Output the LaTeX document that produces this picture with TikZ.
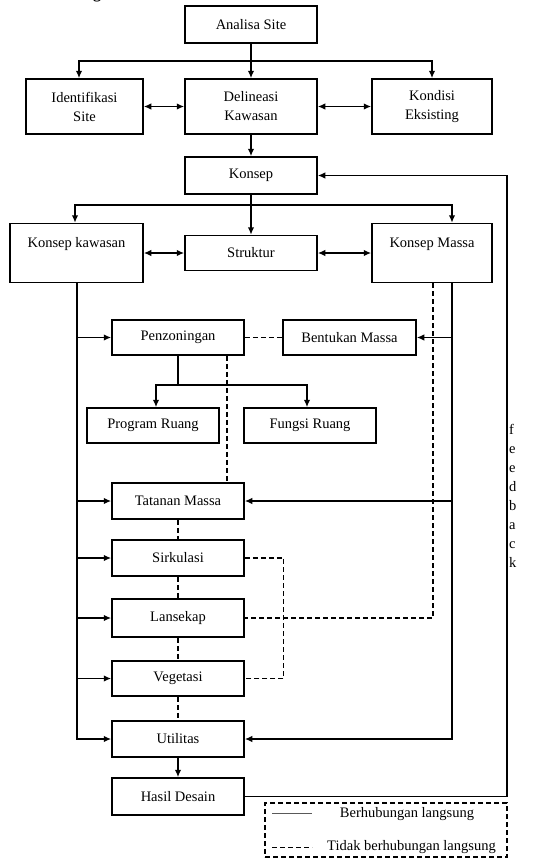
\documentclass[tikz,border=0pt]{standalone}
\usepackage{fontspec}
\setmainfont{Liberation Serif}
\usetikzlibrary{positioning,calc,arrows.meta}
\tikzset{post/.style={->,>={Latex[length=7.5pt,width=6.5pt]}, line width=1.5pt},
         both/.style={<->,>={Latex[length=7.5pt,width=6.5pt]}, line width=1.5pt},
         link/.style={line width=1.5pt},
         indirect/.style={dashed, dash pattern=on 5pt off 3pt, line width=1.2pt},
         teks/.style={font=\fontsize{14.5}{19}\selectfont},
         box/.style={draw, line width=1.5pt, rectangle, align=center, inner sep=0pt,
                     minimum width=132pt, minimum height=36pt, teks},
         topbox/.style={box, text height=24pt, text depth=35pt, minimum height=0pt}
}

\begin{document}
\begin{tikzpicture}[x=1pt,y=-1pt]
    \useasboundingbox (0,0) rectangle (547,860);
    \node[font=\bfseries\fontsize{16}{16}\selectfont, anchor=base, inner sep=0pt] (judul) at (97,-1.5) {g};

    % kotak-kotak
    \node[box, minimum height=37pt] (analisa) at (251,24.5) {Analisa Site};
    \node[box, minimum width=117pt, minimum height=55pt] (identifikasi) at (84.5,106.5) {Identifikasi\\Site};
    \node[box, minimum height=55pt] (delineasi) at (251,106.5) {Delineasi\\Kawasan};
    \node[box, minimum width=120pt, minimum height=55pt] (kondisi) at (432,106.5) {Kondisi\\Eksisting};
    \node[box, minimum height=37pt] (konsep) at (251,175.5) {Konsep};
    \node[topbox, minimum width=133pt] (kkawasan) at (76.5,253) {Konsep kawasan};
    \node[box, minimum height=35pt] (struktur) at (251,253) {Struktur};
    \node[topbox, minimum width=120pt] (kmassa) at (432,253) {Konsep Massa};
    \node[box, minimum height=35pt] (penzoningan) at (178,337.5) {Penzoningan};
    \node[box, minimum width=133pt, minimum height=35pt] (bentukan) at (349.5,337.5) {Bentukan Massa};
    \node[box, minimum height=35pt] (program) at (153,425.5) {Program Ruang};
    \node[box, minimum height=35pt] (fungsi) at (310,425.5) {Fungsi Ruang};
    \node[box] (tatanan) at (178,501) {Tatanan Massa};
    \node[box] (sirkulasi) at (178,558) {Sirkulasi};
    \node[box, minimum height=38pt] (lansekap) at (178,618) {Lansekap};
    \node[box, minimum height=35pt] (vegetasi) at (178,678.5) {Vegetasi};
    \node[box] (utilitas) at (178,739) {Utilitas};
    \node[box, minimum height=37pt] (hasil) at (178,796.5) {Hasil Desain};

    \node[teks, anchor=north west, align=left, inner sep=0pt] (umpan) at (509,424) {f\\e\\e\\d\\b\\a\\c\\k};

    % titik bantu
    \coordinate (cabang1) at (251,61);
    \coordinate (cabang2) at (251,205);
    \coordinate (cabang3) at (178,385);
    \coordinate (kiri) at (77,0);
    \coordinate (kanan) at (452,0);
    \coordinate (putus) at (433,0);
    \coordinate (balik) at (507,0);

    % hubungan langsung
    \draw[link] (analisa) -- (cabang1);
    \draw[post] (cabang1) -- (delineasi);
    \draw[post] (cabang1) -| ([xshift=-5.5pt]identifikasi.north);
    \draw[post] (cabang1) -| (kondisi.north);
    \draw[both] (identifikasi) -- (delineasi);
    \draw[both] (delineasi) -- (kondisi);
    \draw[post] (delineasi) -- (konsep);

    \draw[link] (konsep) -- (cabang2);
    \draw[post] (cabang2) -- (struktur);
    \draw[post] (cabang2) -| ([xshift=-1.5pt]kkawasan.north);
    \draw[post] (cabang2) -| ([xshift=20pt]kmassa.north);
    \draw[both] (kkawasan) -- (struktur);
    \draw[both] (struktur) -- (kmassa);

    \draw[post] (kkawasan.south -| kiri) |- (utilitas.west);
    \draw[post] (kiri |- penzoningan) -- (penzoningan.west);
    \draw[post] (kiri |- tatanan) -- (tatanan.west);
    \draw[post] (kiri |- sirkulasi) -- (sirkulasi.west);
    \draw[post] (kiri |- lansekap) -- (lansekap.west);
    \draw[post] (kiri |- vegetasi) -- (vegetasi.west);

    \draw[post] (kmassa.south -| kanan) |- (utilitas.east);
    \draw[post] (kanan |- bentukan) -- (bentukan.east);
    \draw[post] (kanan |- tatanan) -- (tatanan.east);

    \draw[link] (penzoningan) -- (cabang3);
    \draw[post] (cabang3) -| ([xshift=3pt]program.north);
    \draw[post] (cabang3) -| ([xshift=-3pt]fungsi.north);

    \draw[post] (utilitas) -- (hasil);
    \draw[post] (hasil.east) -- (hasil.east -| balik) |- (konsep.east);

    % hubungan tidak langsung
    \draw[indirect] (penzoningan) -- (bentukan);
    \draw[indirect] ([xshift=49pt]penzoningan.south) -- ([xshift=49pt]tatanan.north);
    \draw[indirect] (kmassa.south -| putus) |- (lansekap.east);
    \draw[indirect] (tatanan) -- (sirkulasi);
    \draw[indirect] (sirkulasi) -- (lansekap);
    \draw[indirect] (lansekap) -- (vegetasi);
    \draw[indirect] (vegetasi) -- (utilitas);
    \draw[indirect] (sirkulasi.east) -- ++(39,0) |- (vegetasi.east);

    % keterangan
    \node[draw, indirect, minimum width=242pt, minimum height=54pt, inner sep=0pt] (legenda) at (386,830) {};
    \draw[line width=1.2pt, gray!70!black] ([xshift=8pt,yshift=-11pt]legenda.north west) -- ++(40,0);
    \draw[indirect] ([xshift=8pt,yshift=10pt]legenda.south west) -- ++(40,0);
    \node[teks] (kunci1) at (407,814) {Berhubungan langsung};
    \node[teks, anchor=west, inner sep=0pt] (kunci2) at (327,847) {Tidak berhubungan langsung};
\end{tikzpicture}
\end{document}
